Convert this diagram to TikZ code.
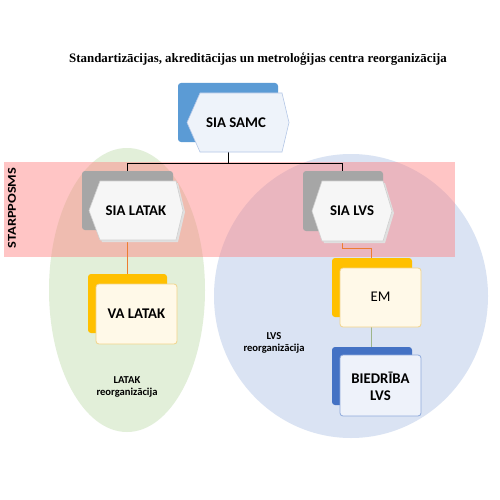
\documentclass[tikz,border=0pt]{standalone}
\usepackage{fontspec}
\setmainfont{Carlito}
\newfontfamily\titlefont{Liberation Serif}
\begin{document}
\begin{tikzpicture}[x=1pt,y=-1pt,
  boxtext/.style={font=\fontsize{14.8}{17}\selectfont\bfseries, align=center, inner sep=0pt},
  smalltext/.style={font=\fontsize{10.6}{12.5}\selectfont\bfseries, align=center, inner sep=0pt},
  backbox/.style={rounded corners=3pt, draw=none},
  hexbox/.style={line width=0.6pt},
  frontbox/.style={rounded corners=3pt, line width=0.8pt},
  conn/.style={line width=1pt}
]
\definecolor{samcblue}{HTML}{5B9BD5}
\definecolor{hexblue}{HTML}{EEF3FA}
\definecolor{hexblueline}{HTML}{B4C7E7}
\definecolor{greyback}{HTML}{A6A6A6}
\definecolor{hexgrey}{HTML}{F6F6F6}
\definecolor{hexgreyline}{HTML}{D0D0D0}
\definecolor{yellowback}{HTML}{FFC000}
\definecolor{yellowfront}{HTML}{FFF9E8}
\definecolor{yellowline}{HTML}{F2D48A}
\definecolor{darkblueback}{HTML}{4472C4}
\definecolor{bluefront}{HTML}{EEF2FA}
\definecolor{blueline}{HTML}{8EA9DB}
\definecolor{greenell}{HTML}{E2EFD9}
\definecolor{bluecirc}{HTML}{DAE3F3}
\definecolor{bandred}{HTML}{FF8080}
\definecolor{orangeline}{HTML}{ED7D31}
\definecolor{greenline}{HTML}{9EB58A}
\useasboundingbox[fill=white] (0,0) rectangle (500,500);

% title
\node[font=\titlefont\fontsize{12.9}{15}\selectfont\bfseries, inner sep=0pt] (title) at (258,59) {Standartizācijas, akreditācijas un metroloģijas centra reorganizācija};

% background regions
\fill[greenell] (127,290) ellipse [x radius=78, y radius=142];
\fill[bluecirc] (351,296) ellipse [x radius=137, y radius=142];
\fill[bandred, opacity=0.45] (4,162) rectangle (455,257);
\node[font=\fontsize{12}{14}\selectfont\bfseries, rotate=90, inner sep=0pt, xscale=1.2] (starp) at (12,208) {STARPPOSMS};

% connectors (behind boxes)
\coordinate (samcbot) at (228,152);
\coordinate (split) at (228,163);
\coordinate (latakin) at (127,171);
\coordinate (lvsin) at (342,171);
\draw[conn] (samcbot) -- (split) -| (latakin);
\draw[conn] (split) -| (lvsin);
\coordinate (latakbot) at (127,240);
\coordinate (valatakin) at (127,274);
\draw[conn, orangeline] (latakbot) -- (valatakin);
\coordinate (lvsbot) at (342,241);
\coordinate (emin) at (371,258);
\draw[conn, orangeline] (lvsbot) -- (342,248) -| (emin);
\coordinate (embot) at (371,327);
\coordinate (biedin) at (371,347);
\draw[conn, greenline] (embot) -- (biedin);

% SIA SAMC
\fill[backbox, samcblue] (178,83) rectangle (278,142);
\draw[hexbox, fill=hexblue, draw=hexblueline] (187,122.5) -- (200,93) -- (282,93) -- (289,122.5) -- (282,152) -- (200,152) -- cycle;
\node[boxtext] (samc) at (236,122.5) {SIA SAMC};

% SIA LATAK
\fill[backbox, greyback] (82,171) rectangle (173,230);
\fill[black!12] (91,212) -- (102,183) -- (178,183) -- (185,212) -- (178,242) -- (102,242) -- cycle;
\draw[hexbox, fill=hexgrey, draw=hexgreyline] (89,210.5) -- (100,181) -- (176,181) -- (183,210.5) -- (176,240) -- (100,240) -- cycle;
\node[boxtext] (latak) at (136,210.5) {SIA LATAK};

% SIA LVS
\fill[backbox, greyback] (303,171) rectangle (383,231);
\fill[black!12] (314,213) -- (324,183) -- (385,183) -- (394,213) -- (385,243) -- (324,243) -- cycle;
\draw[hexbox, fill=hexgrey, draw=hexgreyline] (312,211) -- (322,181) -- (383,181) -- (392,211) -- (383,241) -- (322,241) -- cycle;
\node[boxtext] (lvs) at (352,211) {SIA LVS};

% VA LATAK
\fill[backbox, yellowback] (88,274) rectangle (167,333);
\draw[frontbox, fill=yellowfront, draw=yellowline] (96,284) rectangle (177,344);
\node[boxtext] (valatak) at (136.5,314) {VA LATAK};

% EM
\fill[backbox, yellowback] (332,258) rectangle (412,317);
\draw[frontbox, fill=yellowfront, draw=yellowline] (340,268) rectangle (421,327);
\node[boxtext, font=\fontsize{14.8}{17}\selectfont] (em) at (380.5,297) {EM};

% BIEDRIBA LVS
\fill[backbox, darkblueback] (332,347) rectangle (412,405);
\draw[frontbox, fill=bluefront, draw=blueline] (340,355) rectangle (421,416);
\node[boxtext, font=\fontsize{14.8}{17}\selectfont\bfseries] (bied) at (380.5,386) {BIEDRĪBA\\LVS};

% region labels
\node[smalltext] (lvsre) at (274,343) {LVS\\reorganizācija};
\node[smalltext] (latakre) at (127,387) {LATAK\\reorganizācija};
\end{tikzpicture}
\end{document}
